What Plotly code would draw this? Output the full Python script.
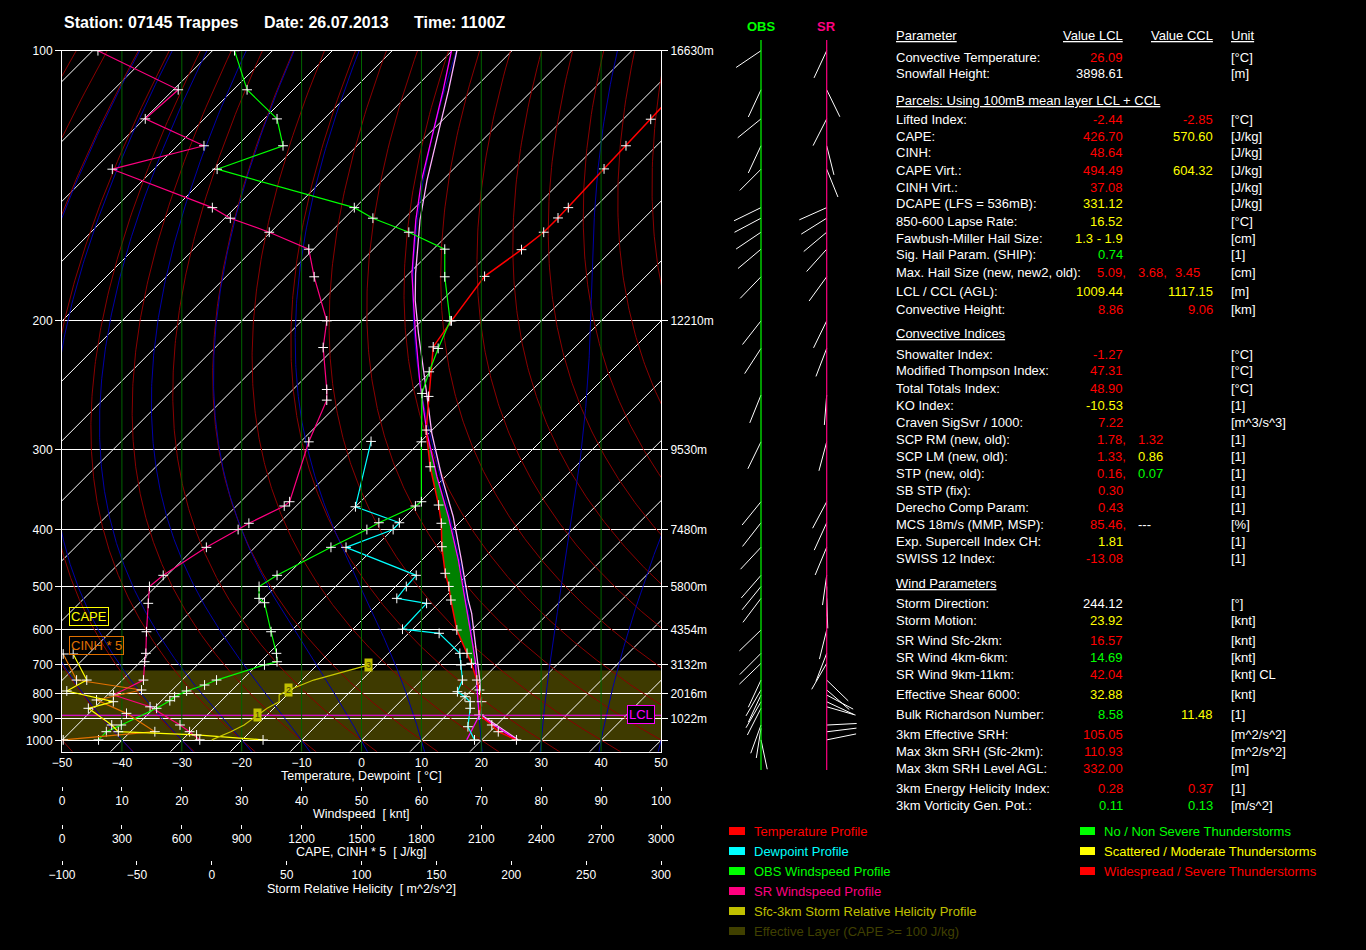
import numpy as np
import plotly.graph_objects as go

W, H = 1366, 950
FONT = "Liberation Sans, Arial, sans-serif"

# ---------------- data ----------------
PRESSURE_LEVELS = [100, 200, 300, 400, 500, 600, 700, 800, 900, 1000]
HEIGHT_LABELS = ["16630m", "12210m", "9530m", "7480m", "5800m", "4354m",
                 "3132m", "2016m", "1022m", ""]
TEMP_TICKS = list(range(-50, 51, 10))
WIND_TICKS = list(range(0, 101, 10))
CAPE_TICKS = list(range(0, 3001, 300))
SRH_TICKS = list(range(-100, 301, 50))

# temperature profile [hPa], [degC]
TEMP_P = [100, 117.3, 125.1, 132.5, 146.3, 150.3, 156.1, 163.6, 176.1, 200,
          216.1, 252, 281.2, 318.6, 365.2, 390.7, 427.1, 474.1, 500, 528.6,
          600, 664.6, 695, 750, 785.3, 829.7, 884, 927.7, 958.6, 998]
TEMP_T = [-56.2, -55.4, -55.1, -54.9, -54.4, -54.4, -54.4, -55.2, -56.9, -55.0,
          -53.7, -46.2, -41.0, -34.2, -26.4, -22.9, -18.9, -13.9, -11.1, -8.5,
          -2.5, 3.1, 5.5, 9.2, 11.3, 13.6, 15.4, 19.2, 21.4, 25.8]

# dewpoint profile
DEW_P = [292.1, 367.5, 389.9, 400, 428.1, 478, 500, 525, 535.9, 598,
         608.7, 664.6, 700, 750, 791.6, 810.4, 829.7, 856.1, 935.5, 998]
DEW_T = [-48.3, -40.0, -30.0, -29.9, -34.8, -18.4, -18.2, -17.8, -12.0, -11.7,
         -4.9, 1.9, 4.0, 6.8, 7.9, 10.0, 11.7, 12.8, 15.5, 18.8]

# observed windspeed [knt]
OBS_P = [100, 109.4, 117.2, 125.1, 132.6, 146.3, 150.4, 156.1, 163.4, 176.3,
         200, 217.1, 233.2, 249.6, 292.5, 360.8, 366.5, 389.9, 400, 428.1,
         478, 500, 525, 534.6, 604.5, 664.6, 690, 700, 750, 767.4,
         789, 810.4, 825.8, 856.1, 927.7, 958.6, 998]
OBS_KT = [28.8, 30.9, 35.9, 36.9, 25.9, 48.8, 51.9, 57.9, 63.9, 63.9,
          64.8, 62.8, 61.3, 60.1, 60.0, 60.0, 59.0, 52.9, 50.9, 44.9,
          35.9, 32.9, 32.9, 33.8, 34.9, 35.8, 35.9, 33.8, 25.8, 23.8,
          20.8, 18.8, 18.0, 15.8, 9.9, 7.4, 6.1]

# storm relative windspeed [knt]
SR_P = [100, 109.4, 117.2, 125.1, 132.6, 146.3, 150.4, 156.1, 163.4, 176.3,
        200, 216.5, 246.5, 255, 292.5, 360.8, 366.5, 390.7, 400, 428.1,
        478, 500, 535.9, 604.5, 664.6, 690, 750, 803.9, 850, 927.7,
        958.6, 998]
SR_KT = [6.0, 19.4, 13.9, 23.7, 8.4, 25.1, 28.1, 34.6, 41.2, 42.1,
         44.2, 43.6, 44.2, 44.2, 41.2, 38.0, 37.1, 31.2, 29.4, 24.1,
         16.9, 14.6, 14.4, 14.1, 14.0, 13.8, 13.6, 8.6, 14.7, 19.7,
         21.3, 23.0]

# CAPE and CINH*5 of parcels lifted from the low levels [J/kg]
CAPE_P = [666.6, 750, 789, 829.7, 856.1, 927.7, 958.6, 974, 998]
CAPE_V = [56, 124, 24, 257, 132, 249, 282, 674, 1007]
CINH_P = [666.6, 750, 785.3, 823, 877, 958.6, 998]
CINH_V = [6, 73, 398, 173, 323, 465, 6]

# sfc-3km storm relative helicity [m^2/s^2], km marks 1, 2, 3
SRH_P = [998, 958.6, 927.7, 884, 856.1, 829.7, 803.9, 785.3, 750, 700]
SRH_V = [0, 12.7, 21.6, 30.5, 37, 45, 45, 51.5, 68, 105]
SRH_MARKS = {3: "1", 7: "2", 9: "3"}

# lifted parcel and virtual parcel
PARCEL_P = [100, 109.7, 120.5, 136.5, 151.1, 174.7, 188.4, 207.6, 241.9, 284.3,
            329.9, 381.3, 450, 528.6, 558.9, 645.4, 695, 761.4, 823, 876.8,
            885, 998]
PARCEL_T = [-100.1, -94.8, -89.8, -83.4, -77.8, -69.5, -64.8, -58.9, -49.8, -40.3,
            -31.4, -22.8, -13.9, -6.1, -3.4, 3.0, 6.2, 9.7, 12.7, 15.1,
            15.5, 25.8]
VPARCEL_P = [100, 109.7, 120.5, 136.5, 151.1, 174.7, 188.4, 207.6, 241.9, 284.3,
             329.9, 381.3, 450, 528.6, 558.9, 645.4, 695, 761.4, 823, 863,
             884, 998]
VPARCEL_T = [-99.2, -93.9, -88.9, -82.5, -77.1, -68.9, -64.5, -58.4, -48.9, -39.5,
             -30.6, -22.0, -13.4, -5.6, -2.8, 3.4, 6.6, 10.3, 13.2, 15.0,
             15.8, 26.1]
MIXLINE_P = [885, 998]
MIXLINE_T = [15.5, 17.5]
LCL_P = 885
LFC_P, EL_P = 695, 281
EFFECTIVE_LAYER = (998, 718)

# wind direction at the barb levels [deg]
OBS_BARB_P = [100, 109.4, 117.2, 125.1, 132.6, 146.3, 150.4, 156.1, 163.4, 176.3,
              200, 217.1, 250.9, 292.5, 360.8, 390, 428, 478, 500, 525,
              600, 664.6, 695, 750, 785, 804, 830, 856, 928, 943, 998]
OBS_BARB_DIR = [236, 205, 231, 205, 225, 244, 242, 236, 230, 224,
                218, 213, 202, 206, 219, 218, 223, 221, 219, 217,
                226, 225, 226, 205, 210, 205, 210, 207, 200, 189, 168]
SR_BARB_P = [100, 109.4, 117.2, 125.1, 132.6, 146.3, 150.4, 156.1, 163.4, 176.3,
             200, 217.1, 250.9, 292.5, 360.8, 390, 428, 478, 500, 525,
             600, 664.6, 695, 750, 785, 804, 830, 850, 928, 959, 998]
SR_BARB_DIR = [205, 154, 207, 166, 158, 246, 238, 230, 222, 216,
               206, 201, 184.5, 195, 208, 204.5, 202.6, 188, 180, 178,
               194, 201, 210, 134, 131, 118, 115, 106, 87, 83, 78.5]

RED, YEL, GRN, WHT = "#ff0000", "#ffff00", "#00ff00", "#ffffff"

# parameter table: headers are strings, rows are (label, cells, unit)
TABLE = [
    "Parameter",
    ("Convective Temperature:", [("26.09", RED, "lcl")], "[°C]"),
    ("Snowfall Height:", [("3898.61", WHT, "lcl")], "[m]"),
    "Parcels: Using 100mB mean layer LCL + CCL",
    ("Lifted Index:", [("-2.44", RED, "lcl"), ("-2.85", RED, "ccl")], "[°C]"),
    ("CAPE:", [("426.70", RED, "lcl"), ("570.60", YEL, "ccl")], "[J/kg]"),
    ("CINH:", [("48.64", RED, "lcl")], "[J/kg]"),
    ("CAPE Virt.:", [("494.49", RED, "lcl"), ("604.32", YEL, "ccl")], "[J/kg]"),
    ("CINH Virt.:", [("37.08", RED, "lcl")], "[J/kg]"),
    ("DCAPE (LFS = 536mB):", [("331.12", YEL, "lcl")], "[J/kg]"),
    ("850-600 Lapse Rate:", [("16.52", YEL, "lcl")], "[°C]"),
    ("Fawbush-Miller Hail Size:", [("1.3 - 1.9", YEL, "lcl")], "[cm]"),
    ("Sig. Hail Param. (SHIP):", [("0.74", GRN, "lcl")], "[1]"),
    ("Max. Hail Size (new, new2, old):",
     [("5.09,", RED, "lclc"), ("3.68,", RED, "mid"), ("3.45", RED, "third")], "[cm]"),
    ("LCL / CCL (AGL):", [("1009.44", YEL, "lcl"), ("1117.15", YEL, "ccl")], "[m]"),
    ("Convective Height:", [("8.86", RED, "lcl"), ("9.06", RED, "ccl")], "[km]"),
    "Convective Indices",
    ("Showalter Index:", [("-1.27", RED, "lcl")], "[°C]"),
    ("Modified Thompson Index:", [("47.31", RED, "lcl")], "[°C]"),
    ("Total Totals Index:", [("48.90", RED, "lcl")], "[°C]"),
    ("KO Index:", [("-10.53", YEL, "lcl")], "[1]"),
    ("Craven SigSvr / 1000:", [("7.22", RED, "lcl")], "[m^3/s^3]"),
    ("SCP RM (new, old):", [("1.78,", RED, "lclc"), ("1.32", RED, "mid")], "[1]"),
    ("SCP LM (new, old):", [("1.33,", RED, "lclc"), ("0.86", YEL, "mid")], "[1]"),
    ("STP (new, old):", [("0.16,", RED, "lclc"), ("0.07", GRN, "mid")], "[1]"),
    ("SB STP (fix):", [("0.30", RED, "lcl")], "[1]"),
    ("Derecho Comp Param:", [("0.43", RED, "lcl")], "[1]"),
    ("MCS 18m/s (MMP, MSP):", [("85.46,", RED, "lclc"), ("---", WHT, "mid")], "[%]"),
    ("Exp. Supercell Index CH:", [("1.81", YEL, "lcl")], "[1]"),
    ("SWISS 12 Index:", [("-13.08", RED, "lcl")], "[1]"),
    "Wind Parameters",
    ("Storm Direction:", [("244.12", WHT, "lcl")], "[°]"),
    ("Storm Motion:", [("23.92", YEL, "lcl")], "[knt]"),
    ("SR Wind Sfc-2km:", [("16.57", RED, "lcl")], "[knt]"),
    ("SR Wind 4km-6km:", [("14.69", GRN, "lcl")], "[knt]"),
    ("SR Wind 9km-11km:", [("42.04", RED, "lcl")], "[knt] CL"),
    ("Effective Shear 6000:", [("32.88", YEL, "lcl")], "[knt]"),
    ("Bulk Richardson Number:", [("8.58", GRN, "lcl"), ("11.48", YEL, "ccl")], "[1]"),
    ("3km Effective SRH:", [("105.05", RED, "lcl")], "[m^2/s^2]"),
    ("Max 3km SRH (Sfc-2km):", [("110.93", RED, "lcl")], "[m^2/s^2]"),
    ("Max 3km SRH Level AGL:", [("332.00", RED, "lcl")], "[m]"),
    ("3km Energy Helicity Index:", [("0.28", RED, "lcl"), ("0.37", RED, "ccl")], "[1]"),
    ("3km Vorticity Gen. Pot.:", [("0.11", GRN, "lcl"), ("0.13", GRN, "ccl")], "[m/s^2]"),
]

LEGEND_LEFT = [
    ("Temperature Profile", "#ff0000"),
    ("Dewpoint Profile", "#00ffff"),
    ("OBS Windspeed Profile", "#00ff00"),
    ("SR Windspeed Profile", "#ff0080"),
    ("Sfc-3km Storm Relative Helicity Profile", "#c0c000"),
    ("Effective Layer (CAPE >= 100 J/kg)", "#404000"),
]
LEGEND_RIGHT = [
    ("No / Non Severe Thunderstorms", "#00ff00"),
    ("Scattered / Moderate Thunderstorms", "#ffff00"),
    ("Widespread / Severe Thunderstorms", "#ff0000"),
]

# ---------------- diagram geometry ----------------
X0, X1 = 62, 661          # frame left / right [px]
Y_TOP, Y_BOT = 50.7, 751.8
Y_1000 = 740.3            # pixel row of the 1000 hPa line
SKEW = (X1 - X0) / 100.0  # px per degC, isotherms at 45 deg

TABLE_Y = [35, 57, 74, 100, 119, 136, 153, 170, 187, 204, 221, 238, 255, 272,
           292, 309, 334, 354, 371, 388, 405, 422, 439, 456, 473, 490, 507,
           524, 541, 558, 583, 603, 620, 640, 657, 674, 694, 714, 734, 751,
           768, 788, 805]
COL_X = {"lcl": (1125, "right"), "lclc": (1128, "right"), "mid": (1136, "left"),
         "third": (1173, "left"), "ccl": (1215, "right")}


def p_to_d(p):
    # height of a pressure level above the 1000 hPa line, in px
    lp = np.log(1000.0 / np.asarray(p, dtype=float))
    return 202.26 * lp + 22.38 * lp ** 2 + 8.62 * lp ** 3


def skew_x(p, t):
    return np.asarray(t, dtype=float) + p_to_d(p) / SKEW


def joined(segments):
    xs, ys = [], []
    for sx, sy in segments:
        xs += [float(v) for v in sx] + [None]
        ys += [float(v) for v in sy] + [None]
    return xs, ys


def moist_adiabat(t0, p):
    rd, cp, lv, eps = 287.04, 1005.7, 2.501e6, 0.622

    def slope(t, pp):
        tc = t - 273.15
        es = 6.112 * np.exp(17.67 * tc / (tc + 243.5))
        rs = eps * es / (pp - es)
        return (rd * t + lv * rs) / (pp * (cp + lv ** 2 * rs * eps / (rd * t ** 2)))

    out = np.empty_like(p)
    i0 = int(np.argmin(np.abs(p - 1000.0)))
    out[i0] = t0 + 273.15
    for rng in (range(i0 + 1, len(p)), range(i0 - 1, -1, -1)):
        for i in rng:
            j = i - 1 if rng.step == 1 else i + 1
            dp = p[i] - p[j]
            k1 = slope(out[j], p[j])
            k2 = slope(out[j] + k1 * dp / 2, p[j] + dp / 2)
            out[i] = out[j] + k2 * dp
    return out - 273.15


def ann(x, y, text, color=WHT, size=13, anchor="left", **kw):
    return dict(x=x / W, y=1 - y / H, xref="paper", yref="paper", text=text,
                showarrow=False, xanchor=anchor, yanchor="middle",
                font=dict(family=FONT, size=size, color=color), **kw)


fig = go.Figure()

p_grid = np.linspace(1060, 100, 481)
d_bot, d_top = Y_1000 - Y_BOT, Y_1000 - Y_TOP

# isotherms
iso = [([t + d_bot / SKEW, t + d_top / SKEW], [d_bot, d_top]) for t in range(-160, 51, 10)]
xs, ys = joined(iso)
fig.add_trace(go.Scatter(x=xs, y=ys, mode="lines", line=dict(color="#ffffff", width=1),
                         hoverinfo="skip", showlegend=False))

# dry adiabats
dry = []
for t0 in range(-60, 131, 10):
    t = (t0 + 273.15) * (p_grid / 1000.0) ** 0.2857 - 273.15
    dry.append((skew_x(p_grid, t), p_to_d(p_grid)))
xs, ys = joined(dry)
fig.add_trace(go.Scatter(x=xs, y=ys, mode="lines", line=dict(color="#8a0000", width=1),
                         hoverinfo="skip", showlegend=False))

# moist adiabats
moist = []
for t0 in range(-40, 51, 10):
    t = moist_adiabat(t0, p_grid)
    moist.append((skew_x(p_grid, t), p_to_d(p_grid)))
xs, ys = joined(moist)
fig.add_trace(go.Scatter(x=xs, y=ys, mode="lines", line=dict(color="#0000a8", width=1),
                         hoverinfo="skip", showlegend=False))

# windspeed grid
xs, ys = joined([([k, k], [d_bot, d_top]) for k in range(10, 100, 10)])
fig.add_trace(go.Scatter(x=xs, y=ys, xaxis="x3", mode="lines",
                         line=dict(color="#006400", width=1), hoverinfo="skip",
                         showlegend=False))

# CAPE area between environment and parcel
tp = [(p, t) for p, t in zip(TEMP_P, TEMP_T) if EL_P <= p <= LFC_P]
pp = [(p, t) for p, t in zip(PARCEL_P, PARCEL_T) if EL_P <= p <= LFC_P][::-1]
area = tp + pp
fig.add_trace(go.Scatter(x=skew_x([a[0] for a in area], [a[1] for a in area]),
                         y=p_to_d([a[0] for a in area]), mode="lines", fill="toself",
                         fillcolor="#008000", line=dict(width=0), hoverinfo="skip",
                         showlegend=False))

cross = dict(symbol="cross-thin", size=7, color="white", line=dict(color="white", width=1))

# CAPE / CINH / SRH profiles
fig.add_trace(go.Scatter(x=CINH_V, y=p_to_d(CINH_P), xaxis="x4", mode="lines+markers",
                         line=dict(color="#e07000", width=1.2), marker=cross,
                         showlegend=False))
fig.add_trace(go.Scatter(x=CAPE_V, y=p_to_d(CAPE_P), xaxis="x4", mode="lines+markers",
                         line=dict(color="#ffff00", width=1.2), marker=cross,
                         showlegend=False))
fig.add_trace(go.Scatter(x=SRH_V, y=p_to_d(SRH_P), xaxis="x5", mode="lines",
                         line=dict(color="#c8c800", width=1.2), showlegend=False))

# windspeed profiles
fig.add_trace(go.Scatter(x=SR_KT, y=p_to_d(SR_P), xaxis="x3", mode="lines+markers",
                         line=dict(color="#ff0080", width=1.2), marker=cross,
                         showlegend=False))
fig.add_trace(go.Scatter(x=OBS_KT, y=p_to_d(OBS_P), xaxis="x3", mode="lines+markers",
                         line=dict(color="#00ff00", width=1.2), marker=cross,
                         showlegend=False))

# parcels
fig.add_trace(go.Scatter(x=skew_x(VPARCEL_P, VPARCEL_T), y=p_to_d(VPARCEL_P), mode="lines",
                         line=dict(color="#ffb0ff", width=1.3), showlegend=False))
fig.add_trace(go.Scatter(x=skew_x(PARCEL_P, PARCEL_T), y=p_to_d(PARCEL_P), mode="lines",
                         line=dict(color="#ff00ff", width=1.3), showlegend=False))
fig.add_trace(go.Scatter(x=skew_x(MIXLINE_P, MIXLINE_T), y=p_to_d(MIXLINE_P), mode="lines",
                         line=dict(color="#ff00ff", width=1.2), showlegend=False))

# environment
fig.add_trace(go.Scatter(x=skew_x(DEW_P, DEW_T), y=p_to_d(DEW_P), mode="lines+markers",
                         line=dict(color="#00ffff", width=1.2), marker=cross,
                         showlegend=False))
fig.add_trace(go.Scatter(x=skew_x(TEMP_P, TEMP_T), y=p_to_d(TEMP_P), mode="lines+markers",
                         line=dict(color="#ff0000", width=1.5), marker=cross,
                         showlegend=False))

# LCL line
lcl_d = float(p_to_d(LCL_P))
fig.add_trace(go.Scatter(x=[-50, 50], y=[lcl_d, lcl_d], mode="lines",
                         line=dict(color="#ff00ff", width=1.2), showlegend=False))

# dummy trace so the right-hand height axis is drawn
fig.add_trace(go.Scatter(x=[None], y=[None], yaxis="y2", showlegend=False))

# wind sticks (OBS and storm relative) on a pixel overlay
BARB_LEN = 30
for staff_x, bp, bd in ((761, OBS_BARB_P, OBS_BARB_DIR), (826.7, SR_BARB_P, SR_BARB_DIR)):
    segs = []
    for p, dr in zip(bp, bd):
        d0 = float(p_to_d(p))
        a = np.radians(dr)
        segs.append(([staff_x, staff_x + BARB_LEN * np.sin(a)],
                     [d0, d0 + BARB_LEN * np.cos(a)]))
    xs, ys = joined(segs)
    fig.add_trace(go.Scatter(x=xs, y=ys, xaxis="x6", yaxis="y3", mode="lines",
                             line=dict(color="white", width=1), hoverinfo="skip",
                             showlegend=False))

# ---------------- shapes ----------------
shapes = [
    dict(type="rect", xref="x", yref="y", x0=-50, x1=50,
         y0=float(p_to_d(EFFECTIVE_LAYER[0])), y1=float(p_to_d(EFFECTIVE_LAYER[1])),
         fillcolor="#3e3a00", line=dict(width=0), layer="below"),
    dict(type="line", xref="paper", yref="paper", x0=761 / W, x1=761 / W,
         y0=1 - 40 / H, y1=1 - 770 / H, line=dict(color="#00ff00", width=1.2)),
    dict(type="line", xref="paper", yref="paper", x0=826.7 / W, x1=826.7 / W,
         y0=1 - 40 / H, y1=1 - 770 / H, line=dict(color="#ff0080", width=1.2)),
]
for i, (_, c) in enumerate(LEGEND_LEFT):
    y = 831 + 20 * i
    shapes.append(dict(type="rect", xref="paper", yref="paper", x0=729 / W, x1=745 / W,
                       y0=1 - (y - 4) / H, y1=1 - (y + 4) / H, fillcolor=c,
                       line=dict(width=0)))
for i, (_, c) in enumerate(LEGEND_RIGHT):
    y = 831 + 20 * i
    shapes.append(dict(type="rect", xref="paper", yref="paper", x0=1080 / W, x1=1095 / W,
                       y0=1 - (y - 4) / H, y1=1 - (y + 4) / H, fillcolor=c,
                       line=dict(width=0)))

# ---------------- annotations ----------------
anns = [
    ann(62, 22, "<b>Station: 07145 Trappes</b>", size=16),
    ann(262, 22, "<b>Date: 26.07.2013</b>", size=16),
    ann(412, 22, "<b>Time: 1100Z</b>", size=16),
    ann(761, 27, "<b>OBS</b>", color="#00ff00", size=13, anchor="center"),
    ann(826, 27, "<b>SR</b>", color="#ff0080", size=13, anchor="center"),
    ann(89, 616, "CAPE", color="#ffff00", size=13, anchor="center",
        bordercolor="#ffff00", borderwidth=1, borderpad=1),
    ann(96, 645, "CINH * 5", color="#e07000", size=13, anchor="center",
        bordercolor="#e07000", borderwidth=1, borderpad=1),
    ann(641, 714.6, "LCL", color="#ff00ff", size=13, anchor="center",
        bordercolor="#ff00ff", borderwidth=1, borderpad=1, bgcolor="black"),
    ann(361, 776, "Temperature, Dewpoint  [ °C]", size=12.5, anchor="center"),
    ann(361, 814, "Windspeed  [ knt]", size=12.5, anchor="center"),
    ann(361, 852, "CAPE, CINH * 5  [ J/kg]", size=12.5, anchor="center"),
    ann(361, 889, "Storm Relative Helicity  [ m^2/s^2]", size=12.5, anchor="center"),
]
for idx, txt in SRH_MARKS.items():
    anns.append(dict(x=SRH_V[idx], y=float(p_to_d(SRH_P[idx])), xref="x5", yref="y",
                     text=txt, showarrow=False, bgcolor="#c0c000", borderpad=1,
                     font=dict(family=FONT, size=9, color="#404000")))

for entry, y in zip(TABLE, TABLE_Y):
    if isinstance(entry, str):
        anns.append(ann(894, y, "<u>%s</u>" % entry))
        if entry == "Parameter":
            anns.append(ann(1125, y, "<u>Value LCL</u>", anchor="right"))
            anns.append(ann(1215, y, "<u>Value CCL</u>", anchor="right"))
            anns.append(ann(1229, y, "<u>Unit</u>"))
        continue
    name, cells, unit = entry
    anns.append(ann(894, y, name))
    for txt, col, key in cells:
        cx, anc = COL_X[key]
        anns.append(ann(cx, y, txt, color=col, anchor=anc))
    anns.append(ann(1229, y, unit))

for i, (txt, c) in enumerate(LEGEND_LEFT):
    anns.append(ann(752, 831 + 20 * i, txt, color=c))
for i, (txt, c) in enumerate(LEGEND_RIGHT):
    anns.append(ann(1102, 831 + 20 * i, txt, color=c))

# ---------------- layout ----------------
tick_font = dict(family=FONT, size=12, color="white")
p_ticks = [float(v) for v in p_to_d(PRESSURE_LEVELS)]
y_range = [d_bot, d_top]
bottom_axis = dict(overlaying="x", anchor="free", ticks="outside", ticklen=4,
                   tickcolor="white", tickfont=tick_font, showgrid=False,
                   zeroline=False, showline=False, automargin=False)

fig.update_layout(
    template="none",
    width=W, height=H, autosize=False,
    margin=dict(l=0, r=0, t=0, b=0, pad=0),
    paper_bgcolor="black", plot_bgcolor="rgba(0,0,0,0)",
    showlegend=False, hovermode=False,
    xaxis=dict(domain=[X0 / W, X1 / W], range=[-50, 50], anchor="y",
               tickvals=TEMP_TICKS, ticks="", tickfont=tick_font,
               showgrid=False, zeroline=False, showline=True, linecolor="white",
               linewidth=1, mirror=True, automargin=False),
    yaxis=dict(domain=[1 - Y_BOT / H, 1 - Y_TOP / H], range=y_range, anchor="x",
               tickvals=p_ticks, ticktext=[str(p) for p in PRESSURE_LEVELS],
               tickfont=tick_font, ticks="outside", ticklen=6, tickcolor="white",
               showgrid=True, gridcolor="white", gridwidth=1, zeroline=False,
               showline=True, linecolor="white", linewidth=1, mirror="ticks",
               automargin=False),
    yaxis2=dict(overlaying="y", side="right", anchor="x", range=y_range,
                tickvals=p_ticks, ticktext=HEIGHT_LABELS, tickfont=tick_font,
                ticks="outside", ticklen=6, tickcolor="white",
                showgrid=False, zeroline=False, showline=False, automargin=False),
    xaxis3=dict(bottom_axis, position=1 - 786 / H, range=[0, 100], tickvals=WIND_TICKS),
    xaxis4=dict(bottom_axis, position=1 - 824 / H, range=[0, 3000], tickvals=CAPE_TICKS),
    xaxis5=dict(bottom_axis, position=1 - 860 / H, range=[-100, 300], tickvals=SRH_TICKS),
    xaxis6=dict(domain=[0, 1], range=[0, W], anchor="y3", visible=False, automargin=False),
    yaxis3=dict(domain=[0, 1], range=[Y_1000 - H, Y_1000], anchor="x6", visible=False,
                automargin=False),
    shapes=shapes,
    annotations=anns,
)

fig.write_html("out.html", config={"displayModeBar": False},
               post_script="document.body.style.margin='0px';")
